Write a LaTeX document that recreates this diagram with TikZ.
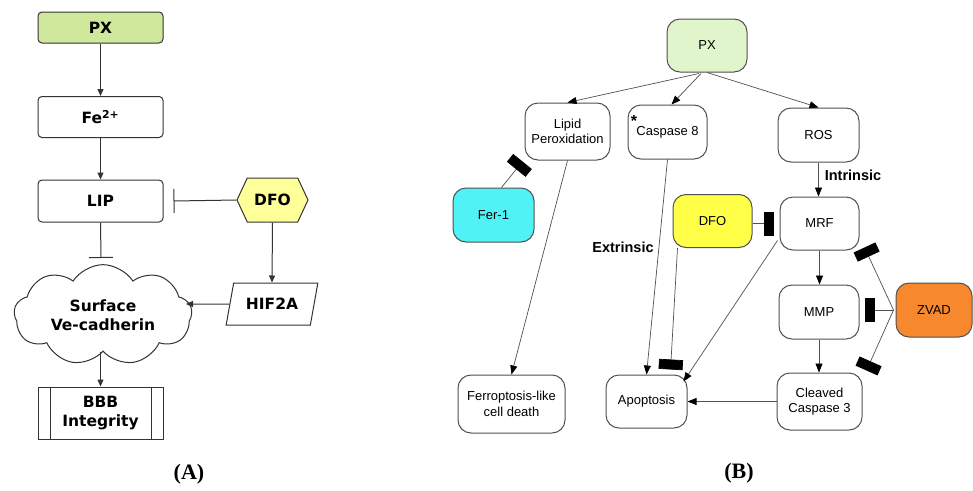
\documentclass[tikz,border=0pt]{standalone}
\usepackage{fontspec}
\setmainfont{Liberation Sans}
\newfontfamily\vfont{DejaVu Sans}
\newfontfamily\serifb{Liberation Serif}
\usetikzlibrary{arrows.meta,shapes.geometric,shapes.symbols,calc}
\definecolor{pxA}{HTML}{CFE89C}
\definecolor{dfoA}{HTML}{FFFF99}
\definecolor{pxB}{HTML}{E0F5CC}
\definecolor{ferB}{HTML}{50F2F6}
\definecolor{dfoB}{HTML}{FFFF48}
\definecolor{zvadB}{HTML}{F7882E}
\definecolor{lnA}{HTML}{333333}
\definecolor{lnB}{HTML}{505050}
\tikzset{
  afont/.style={font=\vfont\bfseries\fontsize{15.5}{18.5}\selectfont},
  abox/.style={draw=lnA, line width=1pt, rounded corners=4pt, minimum width=125pt, inner sep=0pt, afont, align=center},
  aarrow/.style={draw=lnA, line width=1pt, -{Triangle[length=7pt,width=6pt]}},
  ainhib/.style={draw=lnA, line width=1pt, -{Bar[width=24pt,line width=1pt]}},
  bbox/.style={draw=lnB, line width=1pt, rounded corners=13pt, inner sep=0pt, align=center, font=\fontsize{13}{15.5}\selectfont},
  barrow/.style={draw=lnB, line width=0.7pt, -{Triangle[length=9pt,width=7pt,color=black]}},
  binhib/.style={draw=lnB, line width=0.7pt, -{Rectangle[length=10pt,width=24pt,color=black]}},
  blabel/.style={font=\bfseries\fontsize{14.5}{16}\selectfont, inner sep=0pt},
  panlabel/.style={font=\serifb\bfseries\fontsize{22}{24}\selectfont, inner sep=0pt}
}
\begin{document}
\begin{tikzpicture}[x=1pt,y=-1pt]
\useasboundingbox[fill=white] (0,0) rectangle (973,490);
% ---------- Panel A ----------
\node[abox, fill=pxA, minimum height=31pt] (pxa) at (100.5,27.5) {PX};
\node[abox, minimum height=41pt] (fe) at (100.5,117) {Fe\textsuperscript{2+}};
\node[abox, minimum height=42pt] (lip) at (100.5,201) {LIP};
\node[draw=lnA, line width=1pt, fill=dfoA, signal, signal to=west and east, signal pointer angle=130, minimum width=71pt, minimum height=44pt, inner sep=0pt, afont] (dfoa) at (272.5,200) {DFO};
\node[draw=lnA, line width=1pt, trapezium, trapezium left angle=66, trapezium right angle=114, trapezium stretches=true, minimum width=92pt, minimum height=42pt, inner sep=0pt, afont] (hif) at (272,304) {HIF2A};
\node[draw=lnA, line width=1pt, cloud, cloud puffs=9, cloud puff arc=115, aspect=1.9, minimum width=178pt, minimum height=96pt, inner sep=0pt, afont, align=center] (cloud) at (103,315) {Surface\\Ve-cadherin};
\node[abox, rounded corners=0pt, minimum height=52pt] (bbb) at (100.5,413) {BBB\\Integrity};
\draw[draw=lnA, line width=1pt] ($(bbb.north west)+(13,0)$) -- ($(bbb.south west)+(13,0)$);
\draw[draw=lnA, line width=1pt] ($(bbb.north east)+(-12,0)$) -- ($(bbb.south east)+(-12,0)$);
\node[panlabel] (labA) at (189,474) {(A)};
\coordinate (lipT) at (101,258);
\coordinate (cloudE) at (186,304);
\draw[aarrow] (pxa.south) -- (fe.north);
\draw[aarrow] (fe.south) -- (lip.north);
\draw[ainhib] (dfoa.west) -- ($(lip.east)+(10,0)$);
\draw[ainhib] (lip.south) -- (lipT);
\draw[aarrow] (dfoa.south) -- (hif.north);
\draw[aarrow] (hif.west) -- (cloudE);
\draw[aarrow] (cloud.south -| bbb.north) -- (bbb.north);
% ---------- Panel B ----------
\node[bbox, fill=pxB, minimum width=80pt, minimum height=53pt] (pxb) at (707,45.5) {PX};
\node[bbox, minimum width=85pt, minimum height=57pt] (lipid) at (567.5,131.5) {Lipid\\Peroxidation};
\node[bbox, minimum width=79pt, minimum height=54pt] (casp) at (667.5,132) {Caspase 8};
\node[font=\bfseries\fontsize{16}{16}\selectfont, inner sep=0pt] (ast) at (634,121) {*};
\node[bbox, minimum width=81pt, minimum height=54pt] (ros) at (818.5,135) {ROS};
\node[bbox, fill=ferB, minimum width=81pt, minimum height=54pt] (fer) at (493.5,215) {Fer-1};
\node[bbox, fill=dfoB, minimum width=79pt, minimum height=53pt] (dfob) at (712.5,221) {DFO};
\node[bbox, minimum width=79pt, minimum height=53pt] (mrf) at (819.5,223.5) {MRF};
\node[bbox, minimum width=80pt, minimum height=54pt] (mmp) at (819,312) {MMP};
\node[bbox, minimum width=85pt, minimum height=57pt] (cc3) at (819.5,401.5) {Cleaved\\Caspase 3};
\node[bbox, fill=zvadB, minimum width=76pt, minimum height=54pt] (zvad) at (934,310) {ZVAD};
\node[bbox, minimum width=81pt, minimum height=53pt] (apop) at (646.5,401.5) {Apoptosis};
\node[bbox, minimum width=107pt, minimum height=58pt] (ferro) at (511.5,404) {Ferroptosis-like\\cell death};
\node[blabel] (intr) at (853,175) {Intrinsic};
\node[blabel] (extr) at (623,247) {Extrinsic};
\node[panlabel] (labB) at (739,473) {(B)};
% connectors
\draw[barrow] ($(pxb.south)+(-8,1)$) -- (lipid.north);
\draw[barrow] ($(pxb.south)+(-6,1)$) -- ($(casp.north)+(4,0)$);
\draw[barrow] ($(pxb.south)+(0,0)$) -- (ros.north);
\draw[barrow] (ros.south) -- (ros.south |- mrf.north);
\draw[barrow] (mrf.south) -- (mrf.south |- mmp.north);
\draw[barrow] (mmp.south) -- (mmp.south |- cc3.north);
\draw[barrow] (lipid.south) -- (ferro.north);
\draw[barrow] (casp.south) -- (apop.north);
\draw[barrow] (cc3.west) -- (apop.east);
\draw[barrow] ($(mrf.south west)+(-2,-10)$) -- ($(apop.north east)+(-4,7)$);
\draw[binhib] ($(fer.north)+(8,0)$) -- ($(lipid.south west)+(-2,1)$);
\draw[binhib] (dfob.east |- mrf.west) -- ($(mrf.west)+(-6,0)$);
\draw[binhib] ($(dfob.south west)+(5,0)$) -- ($(apop.north)+(24,-5)$);
\draw[binhib] ($(zvad.west)+(-2,0)$) -- ($(mrf.south east)+(5,-3)$);
\draw[binhib] ($(zvad.west)+(-2,0)$) -- ($(zvad.west -| mmp.east)+(5,0)$);
\draw[binhib] ($(zvad.west)+(-2,0)$) -- ($(cc3.north east)+(4,-2)$);
\end{tikzpicture}
\end{document}
